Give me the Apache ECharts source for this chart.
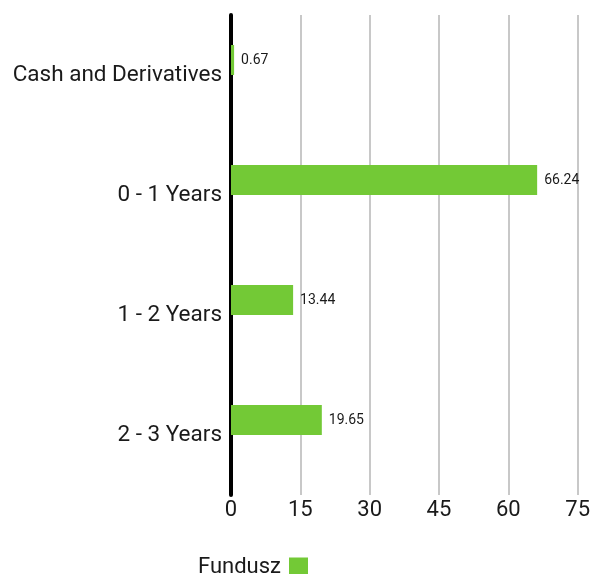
<!DOCTYPE html>
<html>
<head>
<meta charset="utf-8">
<script src="https://cdn.jsdelivr.net/npm/echarts@6/dist/echarts.min.js"></script>
<style>
  html, body { margin: 0; padding: 0; background: #fff; }
  #chart { width: 593px; height: 574px; }
</style>
</head>
<body>
<div id="chart"></div>
<script>
// dane
const categories = ["Cash and Derivatives", "0 - 1 Years", "1 - 2 Years", "2 - 3 Years"];
const fundValues = [0.67, 66.24, 13.44, 19.65];
const seriesName = "Fundusz";
const xTicks = { min: 0, max: 75, interval: 15 };

const chart = echarts.init(document.getElementById("chart"));
const font = "Roboto, sans-serif";

const option = {
  animation: false,
  grid: { left: 231, right: 14, top: 15, bottom: 79 },
  legend: {
    data: [seriesName],
    left: 193,
    top: 551,
    align: "right",
    itemWidth: 19,
    itemHeight: 19,
    icon: "rect",
    textStyle: { fontFamily: font, fontSize: 22, color: "#1a1a1a", padding: [0, 3, 0, 0] }
  },
  xAxis: {
    type: "value",
    min: xTicks.min,
    max: xTicks.max,
    interval: xTicks.interval,
    axisLine: { show: false },
    axisTick: { show: false },
    axisLabel: { fontFamily: font, fontSize: 22, color: "#1a1a1a", margin: 4 },
    splitLine: { lineStyle: { color: "#c8c8c8", width: 2 } }
  },
  yAxis: {
    type: "category",
    data: categories,
    inverse: true,
    axisLine: { lineStyle: { color: "#000", width: 4 } },
    axisTick: { show: false },
    axisLabel: {
      fontFamily: font,
      fontSize: 22.5,
      color: "#1a1a1a",
      margin: 9,
      padding: [6, 0, 0, 0]
    }
  },
  series: [
    {
      name: seriesName,
      type: "bar",
      data: fundValues,
      barWidth: 30,
      barGap: "0%",
      itemStyle: { color: "#73c936" },
      label: {
        show: true,
        position: "right",
        distance: 7,
        fontFamily: font,
        fontSize: 14,
        color: "#1a1a1a"
      }
    },
    {
      name: "",
      type: "bar",
      data: categories.map(() => null),
      barWidth: 30,
      barGap: "0%"
    }
  ]
};
chart.setOption(option);
</script>
</body>
</html>
